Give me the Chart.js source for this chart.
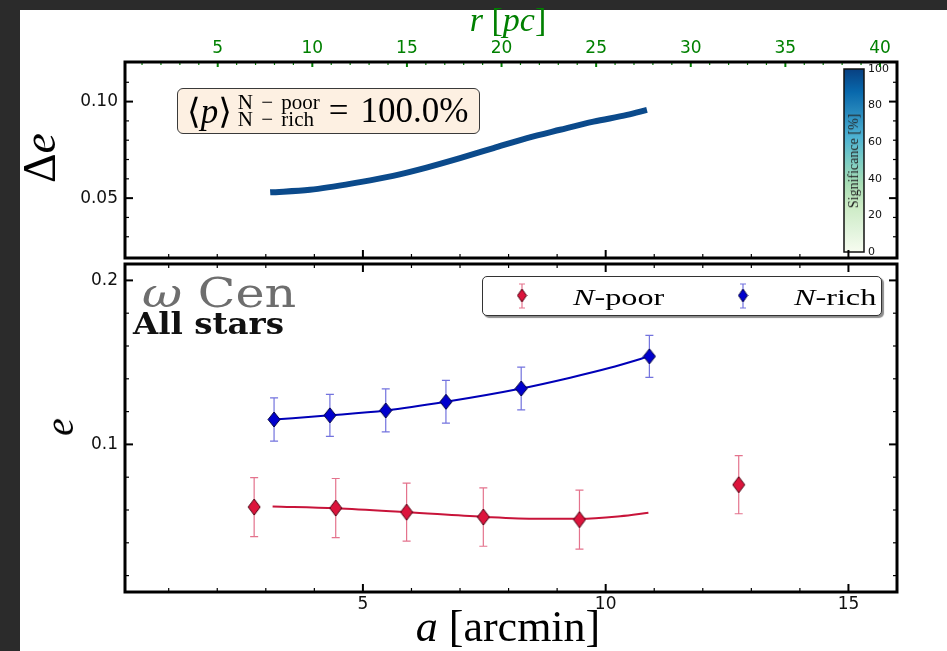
<!DOCTYPE html>
<html>
<head>
<meta charset="utf-8">
<title>omega Cen ellipticity profile</title>
<script src="https://cdn.jsdelivr.net/npm/chart.js@4.4.1/dist/chart.umd.min.js"></script>
<style>
  body { margin: 0; width: 947px; height: 651px; background: #2b2b2b; overflow: hidden; position: relative;
         font-family: "Liberation Serif", "DejaVu Serif", serif; }
  #paper { position: absolute; left: 20px; top: 10px; right: 0; bottom: 0; background: #fff; }
  .box { position: absolute; left: 0; width: 947px; }
  #topBox { top: 0; height: 262px; }
  #botBox { top: 262px; height: 389px; }
  .lbl { position: absolute; white-space: nowrap; line-height: 1; }
  .c { transform: translate(-50%, -50%); }
  .rot { transform: translate(-50%, -50%) rotate(-90deg); }
  #pcTitle { left: 508px; top: 20px; font-size: 34px; color: #008000; }
  #deTitle { left: 40px; top: 158px; font-size: 46px; }
  #eTitle { left: 60px; top: 427px; font-size: 40px; }
  #aTitle { left: 508px; top: 627px; font-size: 44px; }
  #sigTitle { left: 854px; top: 161px; font-size: 14px; color: #222; }
  #cen { left: 142px; top: 273px; font-family: "DejaVu Serif", serif; font-size: 41px; color: #6e6e6e;
         transform: scaleX(1.2); transform-origin: 0 0; }
  #allStars { left: 133px; top: 310px; font-family: "DejaVu Serif", serif; font-weight: bold; font-size: 29px;
              color: #111; transform: scaleX(1.12); transform-origin: 0 0; }
  #pbox { position: absolute; left: 177px; top: 88px; width: 303px; height: 46px; box-sizing: border-box;
          background: #fdf0e2; border: 1.5px solid #3a3a3a; border-radius: 6px;
          display: flex; align-items: center; padding-left: 9px; white-space: nowrap; }
  #pbox .pp { font-size: 35px; }
  #pbox .frac { display: flex; flex-direction: column; font-size: 21px; line-height: 17px; word-spacing: 3px;
                margin: 0 9px 0 6px; }
  #pbox .eq { font-size: 35px; margin-right: 12px; }
  #pbox .val { font-size: 35px; }
  #legend { position: absolute; left: 482px; top: 276px; width: 400px; height: 40px; box-sizing: border-box;
            background: #fff; border: 1.2px solid #333; border-radius: 5px; box-shadow: 2px 2px 1px rgba(0,0,0,0.45); }
  #legend canvas { position: absolute; top: 6px; }
  #legend .name { position: absolute; top: 20px; font-size: 23px; line-height: 1;
                  transform: translateY(-50%) scaleX(1.4); transform-origin: 0 50%; }
</style>
</head>
<body>
<div id="paper"></div>
<div class="box" id="topBox"><canvas id="topChart"></canvas></div>
<div class="box" id="botBox"><canvas id="botChart"></canvas></div>

<div class="lbl c" id="pcTitle"><i>r</i> [<i>pc</i>]</div>
<div class="lbl rot" id="deTitle">Δ<i>e</i></div>
<div class="lbl rot" id="eTitle"><i>e</i></div>
<div class="lbl c" id="aTitle"><i>a</i> [arcmin]</div>
<div class="lbl rot" id="sigTitle">Significance [%]</div>
<div class="lbl" id="cen"><i>ω</i> Cen</div>
<div class="lbl" id="allStars">All stars</div>
<div id="pbox"><span class="pp">⟨<i>p</i>⟩</span><span class="frac"><span>N − poor</span><span>N − rich</span></span><span class="eq">=</span><span class="val" id="pval"></span></div>
<div id="legend"></div>

<script>
// ---- values ----
// upper panel: Δe along semi-major axis a [arcmin]
const deltaA = [3.09, 3.91, 4.94, 5.62, 6.31, 7.0, 7.69, 8.38, 9.06, 9.75, 10.44, 10.85];
const deltaE = [0.0530, 0.0543, 0.0583, 0.0615, 0.0658, 0.0707, 0.0759, 0.0811, 0.0854, 0.0896, 0.0931, 0.0957];
const pValue = 100.0;

// lower panel: ellipticity per bin, with errors
const seriesNames = ['N-poor', 'N-rich'];
const poorA = [2.76, 4.44, 5.90, 7.48, 9.46, 12.74];
const poorE = [0.0618, 0.0612, 0.0587, 0.0557, 0.0541, 0.0754];
const poorErr = [0.018, 0.018, 0.0177, 0.0178, 0.018, 0.0177];
const richA = [3.17, 4.32, 5.47, 6.71, 8.26, 10.90];
const richE = [0.1152, 0.1177, 0.1207, 0.1260, 0.1341, 0.1537];
const richErr = [0.0132, 0.0128, 0.0131, 0.0130, 0.0130, 0.0128];

// smooth fit curves through the bins
const poorFitA = [3.14, 4.44, 5.90, 7.48, 8.6, 9.46, 10.3, 10.88];
const poorFitE = [0.0622, 0.0611, 0.0587, 0.0558, 0.0546, 0.0546, 0.0562, 0.0583];
const richFitA = [3.17, 4.32, 5.47, 6.71, 8.26, 9.27, 10.09, 10.90];
const richFitE = [0.1152, 0.1177, 0.1207, 0.1260, 0.1341, 0.1407, 0.1467, 0.1537];

// axes
const aRange = [0.1, 16];
const pcRange = [0.1, 40.9];
const deRange = [0.019, 0.1205];
const eRange = [0.01, 0.21];
const aTicks = [5, 10, 15];
const pcTicks = [5, 10, 15, 20, 25, 30, 35, 40];
const deTicks = [0.05, 0.10];
const eTicks = [0.1, 0.2];
const sigTicks = [0, 20, 40, 60, 80, 100];
const gnbu = ['#f7fcf0', '#e0f3db', '#ccebc5', '#a8ddb5', '#7bccc4', '#4eb3d3', '#2b8cbe', '#0868ac', '#084081'];

const tickFont = { family: 'DejaVu Sans', size: 17 };

function pts(xs, ys) {
    return xs.map((x, i) => ({ x: x, y: ys[i] }));
}

// fixed axis box, no extra label padding (keeps chart areas where the reference has them)
function fixBox(w, h) {
    return s => {
        if (w != null) s.width = w;
        if (h != null) s.height = h;
        s.paddingTop = s.paddingBottom = s.paddingLeft = s.paddingRight = 0;
    };
}

function makeDiamond(w, h, fill, edge) {
    const c = document.createElement('canvas');
    c.width = w + 2; c.height = h + 2;
    const g = c.getContext('2d');
    g.beginPath();
    g.moveTo(c.width / 2, 1);
    g.lineTo(c.width - 1, c.height / 2);
    g.lineTo(c.width / 2, c.height - 1);
    g.lineTo(1, c.height / 2);
    g.closePath();
    g.fillStyle = fill; g.fill();
    g.lineWidth = 1; g.strokeStyle = edge; g.stroke();
    return c;
}

const poorStyle = { fill: '#dc143c', edge: '#4a0010', line: '#c8143a', err: 'rgba(214,40,80,0.65)' };
const richStyle = { fill: '#0000cd', edge: '#000040', line: '#0000b8', err: 'rgba(40,40,205,0.65)' };
const poorMark = makeDiamond(12, 16, poorStyle.fill, poorStyle.edge);
const richMark = makeDiamond(12, 15, richStyle.fill, richStyle.edge);

// inward ticks + thick frame, matplotlib style
function frameTicks(spec) {
    return {
        id: 'frameTicks',
        afterDraw(chart) {
            const ctx = chart.ctx, ca = chart.chartArea;
            ctx.save();
            const edge = (t, side) => {
                const s = chart.scales[t.scale];
                const horiz = side === 'top' || side === 'bottom';
                const lo = Math.ceil(s.min / t.step - 1e-6), hi = Math.floor(s.max / t.step + 1e-6);
                ctx.strokeStyle = t.color || '#000';
                for (let k = lo; k <= hi; k++) {
                    const v = k * t.step;
                    const p = s.getPixelForValue(v);
                    if (horiz ? (p < ca.left + 2 || p > ca.right - 2) : (p < ca.top + 2 || p > ca.bottom - 2)) continue;
                    const major = t.major.some(m => Math.abs(m - v) < t.step / 10);
                    const len = major ? t.len[0] : t.len[1];
                    ctx.lineWidth = major ? 2 : 1.2;
                    ctx.beginPath();
                    if (side === 'bottom') { ctx.moveTo(p, ca.bottom); ctx.lineTo(p, ca.bottom - len); }
                    else if (side === 'top') { ctx.moveTo(p, ca.top); ctx.lineTo(p, ca.top + len); }
                    else if (side === 'left') { ctx.moveTo(ca.left, p); ctx.lineTo(ca.left + len, p); }
                    else { ctx.moveTo(ca.right, p); ctx.lineTo(ca.right - len, p); }
                    ctx.stroke();
                }
            };
            edge(spec.top, 'top');
            edge(spec.bottom, 'bottom');
            edge(spec.y, 'left');
            edge(spec.y, 'right');
            ctx.lineWidth = 3; ctx.strokeStyle = '#000';
            ctx.strokeRect(ca.left, ca.top, ca.width, ca.height);
            ctx.restore();
        }
    };
}

const colorbar = {
    id: 'colorbar',
    afterDatasetsDraw(chart) {
        const ctx = chart.ctx, ca = chart.chartArea;
        const x0 = ca.right - 53, x1 = ca.right - 33, yTop = ca.top + 7, yBot = ca.bottom - 6;
        ctx.save();
        const grad = ctx.createLinearGradient(0, yBot, 0, yTop);
        gnbu.forEach((c, i) => grad.addColorStop(i / (gnbu.length - 1), c));
        ctx.fillStyle = grad;
        ctx.fillRect(x0, yTop, x1 - x0, yBot - yTop);
        ctx.lineWidth = 1.5; ctx.strokeStyle = '#111';
        ctx.strokeRect(x0, yTop, x1 - x0, yBot - yTop);
        ctx.font = '11px "DejaVu Sans"';
        ctx.fillStyle = '#111';
        ctx.textAlign = 'left'; ctx.textBaseline = 'middle';
        sigTicks.forEach(v => {
            ctx.fillText(String(v), x1 + 4, yBot - v / 100 * (yBot - yTop));
        });
        ctx.restore();
    }
};

const errorBars = {
    id: 'errorBars',
    beforeDatasetsDraw(chart) {
        const ctx = chart.ctx, xs = chart.scales.x, ys = chart.scales.y;
        ctx.save();
        chart.data.datasets.forEach(ds => {
            if (!ds.errs) return;
            ctx.strokeStyle = ds.errColor;
            ctx.lineWidth = 1.2;
            ds.data.forEach((p, i) => {
                const x = xs.getPixelForValue(p.x);
                const y0 = ys.getPixelForValue(p.y - ds.errs[i]);
                const y1 = ys.getPixelForValue(p.y + ds.errs[i]);
                ctx.beginPath();
                ctx.moveTo(x, y0); ctx.lineTo(x, y1);
                ctx.moveTo(x - 4, y0); ctx.lineTo(x + 4, y0);
                ctx.moveTo(x - 4, y1); ctx.lineTo(x + 4, y1);
                ctx.stroke();
            });
        });
        ctx.restore();
    }
};

const hidden = { grid: { display: false, drawTicks: false }, border: { display: false } };

new Chart(document.getElementById('topChart'), {
    type: 'line',
    data: {
        datasets: [{
            data: pts(deltaA, deltaE),
            borderColor: '#0b4a8b',
            borderWidth: 6,
            borderCapStyle: 'butt',
            pointRadius: 0,
            cubicInterpolationMode: 'monotone'
        }]
    },
    options: {
        responsive: true, maintainAspectRatio: false, animation: false, devicePixelRatio: 1,
        layout: { autoPadding: false, padding: { left: 0, right: 50, top: 0, bottom: 0 } },
        plugins: { legend: { display: false }, tooltip: { enabled: false } },
        scales: {
            x: { type: 'linear', position: 'bottom', min: aRange[0], max: aRange[1], ...hidden,
                 ticks: { display: false }, afterFit: fixBox(null, 4) },
            pc: { type: 'linear', axis: 'x', position: 'top', min: pcRange[0], max: pcRange[1], ...hidden,
                  ticks: { color: '#008000', font: tickFont, padding: 3 },
                  afterBuildTicks: s => { s.ticks = pcTicks.map(v => ({ value: v })); },
                  afterFit: fixBox(null, 62) },
            y: { type: 'linear', position: 'left', min: deRange[0], max: deRange[1], ...hidden,
                 ticks: { color: '#111', font: tickFont, padding: 7, callback: v => v.toFixed(2) },
                 afterBuildTicks: s => { s.ticks = deTicks.map(v => ({ value: v })); },
                 afterFit: fixBox(125, null) }
        }
    },
    plugins: [colorbar, frameTicks({
        top: { scale: 'pc', step: 1, major: pcTicks, len: [5, 3], color: '#008000' },
        bottom: { scale: 'x', step: 1, major: aTicks, len: [8, 4] },
        y: { scale: 'y', step: 0.01, major: deTicks, len: [8, 4] }
    })]
});

new Chart(document.getElementById('botChart'), {
    type: 'line',
    data: {
        datasets: [
            { label: seriesNames[0], data: pts(poorA, poorE), showLine: false, pointStyle: poorMark,
              pointRadius: 8, order: 0, errs: poorErr, errColor: poorStyle.err },
            { label: seriesNames[1], data: pts(richA, richE), showLine: false, pointStyle: richMark,
              pointRadius: 8, order: 0, errs: richErr, errColor: richStyle.err },
            { data: pts(poorFitA, poorFitE), borderColor: poorStyle.line, borderWidth: 2, pointRadius: 0,
              cubicInterpolationMode: 'monotone', order: 1 },
            { data: pts(richFitA, richFitE), borderColor: richStyle.line, borderWidth: 2, pointRadius: 0,
              cubicInterpolationMode: 'monotone', order: 1 }
        ]
    },
    options: {
        responsive: true, maintainAspectRatio: false, animation: false, devicePixelRatio: 1,
        layout: { autoPadding: false, padding: { left: 0, right: 50, top: 2, bottom: 0 } },
        plugins: { legend: { display: false }, tooltip: { enabled: false } },
        scales: {
            x: { type: 'linear', position: 'bottom', min: aRange[0], max: aRange[1], ...hidden,
                 ticks: { color: '#111', font: tickFont, padding: 2 },
                 afterBuildTicks: s => { s.ticks = aTicks.map(v => ({ value: v })); },
                 afterFit: fixBox(null, 59) },
            y: { type: 'linear', position: 'left', min: eRange[0], max: eRange[1], ...hidden,
                 ticks: { color: '#111', font: tickFont, padding: 7, callback: v => v.toFixed(1) },
                 afterBuildTicks: s => { s.ticks = eTicks.map(v => ({ value: v })); },
                 afterFit: fixBox(125, null) }
        }
    },
    plugins: [errorBars, frameTicks({
        top: { scale: 'x', step: 1, major: aTicks, len: [8, 4] },
        bottom: { scale: 'x', step: 1, major: aTicks, len: [8, 4] },
        y: { scale: 'y', step: 0.02, major: eTicks, len: [8, 4] }
    })]
});

document.getElementById('pval').textContent = pValue.toFixed(1) + '%';

// legend with errorbar markers
const legend = document.getElementById('legend');
[[poorStyle, 32, 90], [richStyle, 253, 311]].forEach(([st, mx, tx], i) => {
    const c = document.createElement('canvas');
    c.width = 14; c.height = 28;
    c.style.left = mx + 'px';
    const g = c.getContext('2d');
    g.strokeStyle = st.err; g.lineWidth = 1.2;
    g.beginPath();
    g.moveTo(7, 1); g.lineTo(7, 25);
    g.moveTo(4, 1); g.lineTo(10, 1);
    g.moveTo(4, 25); g.lineTo(10, 25);
    g.stroke();
    g.drawImage(makeDiamond(9, 13, st.fill, st.edge), 1.5, 5);
    legend.appendChild(c);
    const t = document.createElement('span');
    t.className = 'name';
    t.style.left = tx + 'px';
    t.innerHTML = seriesNames[i].replace(/^N/, '<i>N</i>');
    legend.appendChild(t);
});
</script>
</body>
</html>
